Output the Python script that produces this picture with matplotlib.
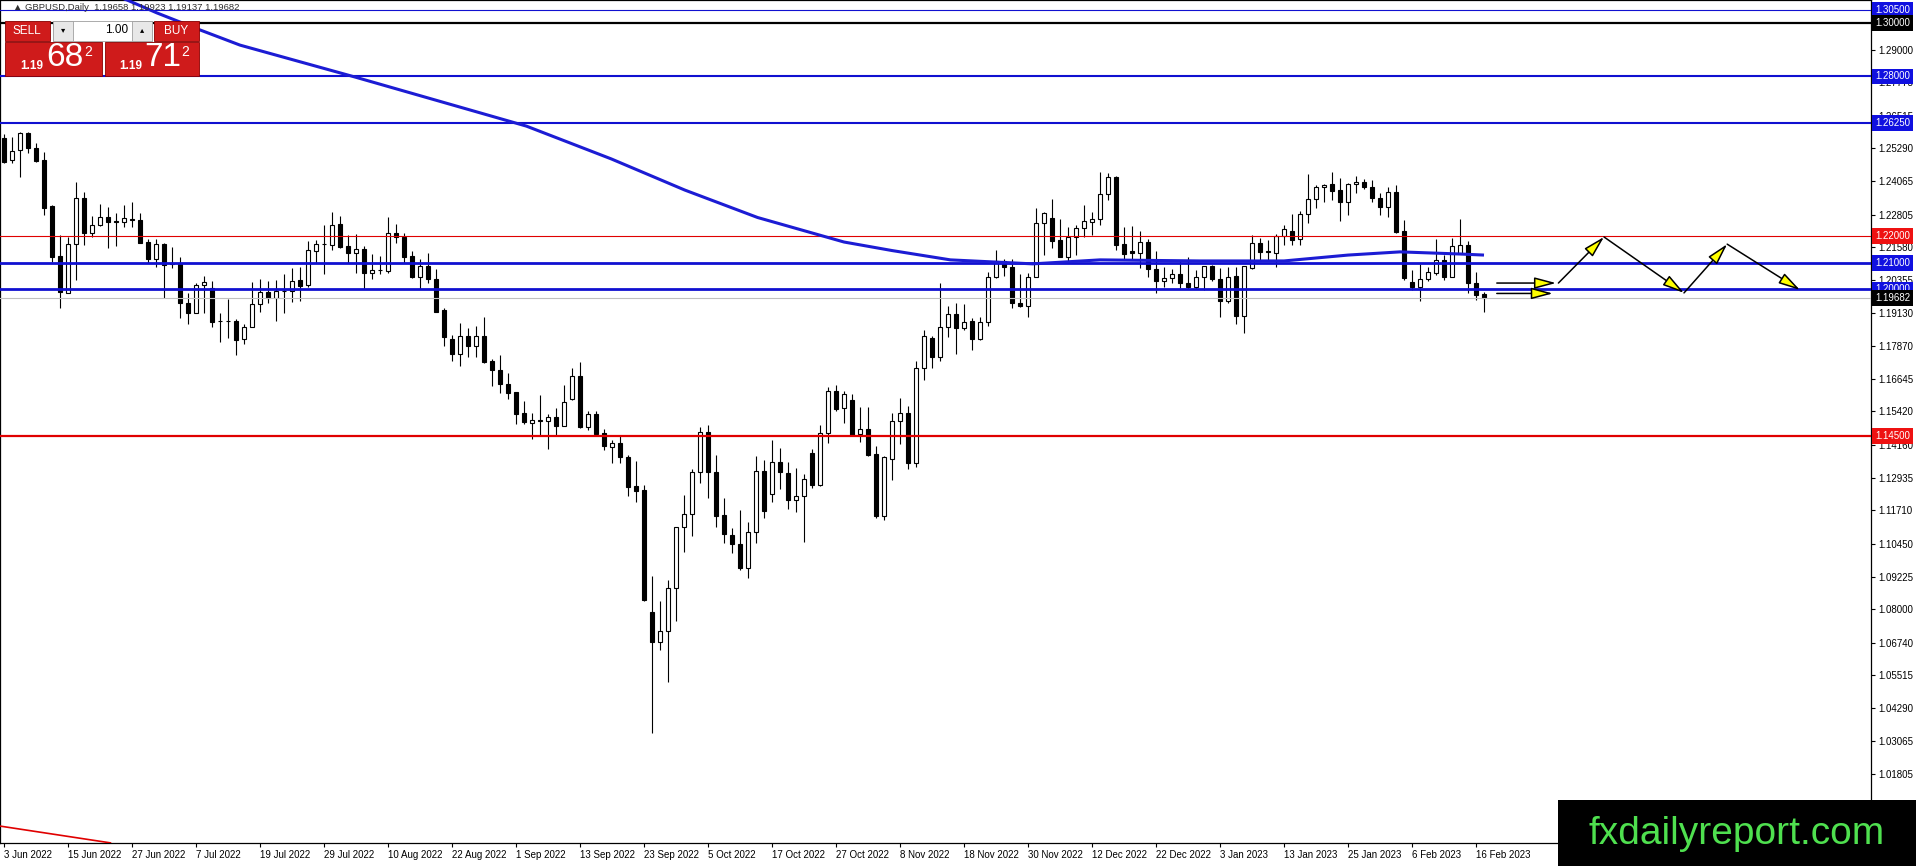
import numpy as np
import matplotlib.pyplot as plt
from matplotlib.patches import Rectangle

plt.rcParams['font.family'] = ['Liberation Sans', 'DejaVu Sans']

W, H = 1916, 866

# --- data ---
dates = ['3 Jun 2022', '15 Jun 2022', '27 Jun 2022', '7 Jul 2022', '19 Jul 2022', '29 Jul 2022',
         '10 Aug 2022', '22 Aug 2022', '1 Sep 2022', '13 Sep 2022', '23 Sep 2022', '5 Oct 2022',
         '17 Oct 2022', '27 Oct 2022', '8 Nov 2022', '18 Nov 2022', '30 Nov 2022', '12 Dec 2022',
         '22 Dec 2022', '3 Jan 2023', '13 Jan 2023', '25 Jan 2023', '6 Feb 2023', '16 Feb 2023']

opens = [1.2567, 1.2486, 1.2523, 1.2586, 1.2530, 1.2486, 1.2313, 1.2126, 1.1988, 1.2169,
         1.2342, 1.2213, 1.2242, 1.2271, 1.2257, 1.2253, 1.2265, 1.2261, 1.2178, 1.2113,
         1.2171, 1.2098, 1.2096, 1.1950, 1.1913, 1.2016, 1.2004, 1.1881, 1.1880, 1.1881,
         1.1813, 1.1860, 1.1945, 1.1989, 1.1967, 1.1993, 1.1994, 1.2036, 1.2015, 1.2146,
         1.2171, 1.2165, 1.2246, 1.2163, 1.2138, 1.2151, 1.2061, 1.2072, 1.2071, 1.2211,
         1.2196, 1.2126, 1.2045, 1.2088, 1.2040, 1.1923, 1.1813, 1.1757, 1.1826, 1.1786,
         1.1826, 1.1732, 1.1698, 1.1646, 1.1616, 1.1538, 1.1498, 1.1508, 1.1508, 1.1523,
         1.1489, 1.1588, 1.1676, 1.1482, 1.1532, 1.1461, 1.1408, 1.1423, 1.1370, 1.1263,
         1.1248, 1.0789, 1.0675, 1.0720, 1.0879, 1.1108, 1.1156, 1.1314, 1.1464, 1.1316,
         1.1154, 1.1077, 1.1045, 1.0956, 1.1088, 1.1319, 1.1231, 1.1352, 1.1310, 1.1208,
         1.1226, 1.1385, 1.1266, 1.1460, 1.1617, 1.1554, 1.1585, 1.1458, 1.1475, 1.1382,
         1.1150, 1.1364, 1.1507, 1.1538, 1.1348, 1.1705, 1.1817, 1.1748, 1.1858, 1.1907,
         1.1854, 1.1883, 1.1813, 1.1877, 1.2046, 1.2107, 1.2083, 1.1951, 1.1939, 1.2048,
         1.2248, 1.2267, 1.2186, 1.2123, 1.2198, 1.2230, 1.2255, 1.2263, 1.2357, 1.2423,
         1.2171, 1.2146, 1.2136, 1.2177, 1.2076, 1.2033, 1.2042, 1.2057, 1.2023, 1.2011,
         1.2046, 1.2088, 1.2040, 1.1958, 1.2051, 1.1902, 1.2080, 1.2176, 1.2143, 1.2138,
         1.2201, 1.2221, 1.2188, 1.2283, 1.2338, 1.2383, 1.2396, 1.2373, 1.2330, 1.2395,
         1.2402, 1.2386, 1.2342, 1.2308, 1.2365, 1.2220, 1.2027, 1.2011, 1.2038, 1.2061,
         1.2111, 1.2048, 1.2136, 1.2167, 1.2023, 1.1984]

highs = [1.2583, 1.2573, 1.2592, 1.2592, 1.2551, 1.2515, 1.2317, 1.2205, 1.2198, 1.2403,
         1.2367, 1.2276, 1.2320, 1.2308, 1.2288, 1.2317, 1.2330, 1.2286, 1.2189, 1.2189,
         1.2173, 1.2161, 1.2123, 1.1986, 1.2023, 1.2052, 1.2032, 1.1913, 1.1964, 1.1888,
         1.1870, 1.2029, 1.2038, 1.2032, 1.2036, 1.2058, 1.2079, 1.2086, 1.2183, 1.2186,
         1.2242, 1.2290, 1.2276, 1.2205, 1.2208, 1.2163, 1.2133, 1.2126, 1.2273, 1.2246,
         1.2213, 1.2145, 1.2113, 1.2138, 1.2076, 1.1930, 1.1830, 1.1873, 1.1857, 1.1861,
         1.1898, 1.1738, 1.1754, 1.1688, 1.1616, 1.1582, 1.1536, 1.1604, 1.1533, 1.1554,
         1.1642, 1.1704, 1.1729, 1.1544, 1.1544, 1.1476, 1.1435, 1.1454, 1.1379, 1.1356,
         1.1267, 1.0925, 1.0829, 1.0910, 1.1108, 1.1229, 1.1326, 1.1483, 1.1492, 1.1379,
         1.1216, 1.1104, 1.1173, 1.1126, 1.1375, 1.1360, 1.1435, 1.1404, 1.1352, 1.1329,
         1.1306, 1.1402, 1.1492, 1.1633, 1.1642, 1.1617, 1.1608, 1.1558, 1.1558, 1.1414,
         1.1375, 1.1535, 1.1592, 1.1563, 1.1730, 1.1848, 1.1826, 1.2023, 1.1939, 1.1951,
         1.1945, 1.1892, 1.1898, 1.2067, 1.2148, 1.2113, 1.2113, 1.2057, 1.2061, 1.2305,
         1.2292, 1.2338, 1.2263, 1.2236, 1.2242, 1.2317, 1.2292, 1.2440, 1.2438, 1.2426,
         1.2236, 1.2238, 1.2220, 1.2188, 1.2146, 1.2083, 1.2076, 1.2105, 1.2121, 1.2073,
         1.2088, 1.2092, 1.2080, 1.2083, 1.2083, 1.2088, 1.2205, 1.2192, 1.2186, 1.2208,
         1.2242, 1.2283, 1.2295, 1.2433, 1.2392, 1.2396, 1.2442, 1.2417, 1.2401, 1.2426,
         1.2413, 1.2411, 1.2361, 1.2386, 1.2392, 1.2261, 1.2073, 1.2095, 1.2083, 1.2190,
         1.2130, 1.2192, 1.2263, 1.2180, 1.2067, 1.1992]

lows = [1.2476, 1.2473, 1.2423, 1.2511, 1.2480, 1.2280, 1.2104, 1.1929, 1.1986, 1.2036,
        1.2167, 1.2198, 1.2238, 1.2154, 1.2163, 1.2236, 1.2236, 1.2173, 1.2098, 1.2086,
        1.1969, 1.2079, 1.1892, 1.1870, 1.1911, 1.1913, 1.1860, 1.1804, 1.1817, 1.1753,
        1.1795, 1.1858, 1.1917, 1.1948, 1.1883, 1.1911, 1.1954, 1.1958, 1.2010, 1.2099,
        1.2058, 1.2148, 1.2155, 1.2101, 1.2061, 1.2001, 1.2040, 1.2058, 1.2063, 1.2176,
        1.2101, 1.2042, 1.2001, 1.2023, 1.1917, 1.1786, 1.1733, 1.1711, 1.1748, 1.1748,
        1.1723, 1.1638, 1.1613, 1.1588, 1.1494, 1.1494, 1.1438, 1.1454, 1.1401, 1.1451,
        1.1488, 1.1586, 1.1479, 1.1473, 1.1454, 1.1398, 1.1348, 1.1350, 1.1226, 1.1204,
        1.0829, 1.0337, 1.0645, 1.0528, 1.0754, 1.1016, 1.1076, 1.1273, 1.1219, 1.1108,
        1.1048, 1.1012, 1.0947, 1.0916, 1.1050, 1.1144, 1.1204, 1.1250, 1.1176, 1.1163,
        1.1054, 1.1254, 1.1263, 1.1423, 1.1542, 1.1498, 1.1450, 1.1429, 1.1375, 1.1144,
        1.1135, 1.1283, 1.1420, 1.1325, 1.1335, 1.1661, 1.1705, 1.1733, 1.1823, 1.1757,
        1.1848, 1.1771, 1.1811, 1.1864, 1.2042, 1.2051, 1.1932, 1.1935, 1.1896, 1.2046,
        1.2130, 1.2155, 1.2121, 1.2105, 1.2130, 1.2196, 1.2205, 1.2242, 1.2336, 1.2148,
        1.2111, 1.2111, 1.2080, 1.2048, 1.1986, 1.2011, 1.2026, 1.2005, 1.2001, 1.2001,
        1.1998, 1.2030, 1.1896, 1.1948, 1.1869, 1.1836, 1.2076, 1.2108, 1.2105, 1.2083,
        1.2167, 1.2167, 1.2167, 1.2248, 1.2307, 1.2330, 1.2336, 1.2258, 1.2280, 1.2361,
        1.2376, 1.2330, 1.2280, 1.2271, 1.2213, 1.2036, 1.1998, 1.1955, 1.2030, 1.2055,
        1.2036, 1.2046, 1.2136, 1.1986, 1.1961, 1.1914]

closes = [1.2480, 1.2521, 1.2586, 1.2530, 1.2483, 1.2305, 1.2123, 1.1991, 1.2169, 1.2342,
          1.2211, 1.2242, 1.2271, 1.2254, 1.2253, 1.2267, 1.2261, 1.2176, 1.2113, 1.2171,
          1.2092, 1.2094, 1.1948, 1.1913, 1.2017, 1.2027, 1.1879, 1.1880, 1.1881, 1.1811,
          1.1858, 1.1945, 1.1989, 1.1967, 1.1994, 1.1994, 1.2033, 1.2014, 1.2148, 1.2171,
          1.2172, 1.2242, 1.2161, 1.2138, 1.2151, 1.2063, 1.2073, 1.2073, 1.2211, 1.2198,
          1.2123, 1.2045, 1.2088, 1.2038, 1.1917, 1.1821, 1.1757, 1.1826, 1.1786, 1.1826,
          1.1727, 1.1696, 1.1644, 1.1613, 1.1533, 1.1501, 1.1511, 1.1509, 1.1523, 1.1488,
          1.1579, 1.1676, 1.1482, 1.1532, 1.1458, 1.1411, 1.1423, 1.1370, 1.1260, 1.1245,
          1.0833, 1.0675, 1.0720, 1.0879, 1.1108, 1.1156, 1.1314, 1.1464, 1.1316, 1.1151,
          1.1081, 1.1044, 1.0956, 1.1088, 1.1319, 1.1170, 1.1352, 1.1314, 1.1208, 1.1226,
          1.1288, 1.1266, 1.1460, 1.1620, 1.1552, 1.1607, 1.1454, 1.1475, 1.1379, 1.1148,
          1.1370, 1.1507, 1.1538, 1.1348, 1.1705, 1.1826, 1.1748, 1.1858, 1.1907, 1.1854,
          1.1879, 1.1813, 1.1877, 1.2046, 1.2107, 1.2083, 1.1951, 1.1939, 1.2048, 1.2248,
          1.2288, 1.2183, 1.2123, 1.2198, 1.2230, 1.2258, 1.2263, 1.2357, 1.2421, 1.2167,
          1.2132, 1.2136, 1.2177, 1.2076, 1.2033, 1.2042, 1.2057, 1.2023, 1.2011, 1.2046,
          1.2088, 1.2038, 1.1958, 1.2046, 1.1902, 1.2088, 1.2176, 1.2142, 1.2142, 1.2201,
          1.2226, 1.2186, 1.2283, 1.2338, 1.2383, 1.2392, 1.2371, 1.2330, 1.2396, 1.2402,
          1.2386, 1.2342, 1.2311, 1.2365, 1.2217, 1.2042, 1.2011, 1.2038, 1.2065, 1.2111,
          1.2048, 1.2163, 1.2167, 1.2023, 1.1980, 1.1968]

# moving average, read at a few bars
ma_idx = [10, 15.4, 19.1, 24.5, 29.5, 43.9, 65.3, 75.9, 85.1, 94.2, 105, 111,
          118.3, 128.6, 137, 149.5, 160, 168, 174.5, 182, 185]
ma_val = [1.3140, 1.3086, 1.3038, 1.2974, 1.2917, 1.2797, 1.2613, 1.2490, 1.2373, 1.2270,
          1.2178, 1.2146, 1.2111, 1.2096, 1.2111, 1.2107, 1.2107, 1.2129, 1.2141, 1.2133, 1.2129]

# horizontal levels: price, colour, width
levels = [1.3050, 1.3000, 1.2800, 1.2625, 1.2200, 1.2100, 1.2000, 1.19682, 1.1450]
level_colors = ['#1010d0', 'black', '#1010d0', '#1010d0', '#e00000', '#1010d0', '#1010d0',
                '#c0c0c0', '#e00000']
level_widths = [0.8, 1.6, 1.5, 1.5, 0.8, 2.0, 2.0, 0.8, 1.6]
label_colors = ['#1010e0', 'black', '#1010e0', '#1010e0', '#ee1111', '#1010e0', '#1010e0',
                'black', '#ee1111']

axis_ticks = [1.29000, 1.27775, 1.26515, 1.25290, 1.24065, 1.22805, 1.21580, 1.20355,
              1.19130, 1.17870, 1.16645, 1.15420, 1.14160, 1.12935, 1.11710, 1.10450,
              1.09225, 1.08000, 1.06740, 1.05515, 1.04290, 1.03065, 1.01805]

# projection arrows (bar index, price)
arr_x0 = [186.6, 186.6, 194.3, 200.0, 210.0, 215.4]
arr_y0 = [1.2024, 1.1985, 1.2024, 1.2197, 1.1987, 1.2170]
arr_x1 = [194.0, 193.6, 200.0, 210.0, 215.4, 224.5]
arr_y1 = [1.2024, 1.1985, 1.2197, 1.1987, 1.2170, 1.1998]

# red trend line at the bottom left
trend_x = [-0.5, 13.3]
trend_y = [0.9986, 0.9923]

# --- figure ---
fig = plt.figure(figsize=(W / 100, H / 100), dpi=100)
fig.patch.set_facecolor('white')
ax = fig.add_axes([0, 23 / H, 1871 / W, 843 / H])
ax.set_xlim(-0.5, 233.375)
ax.set_ylim(0.99225, 1.30863)

x = np.arange(len(opens))
o = np.array(opens); c = np.array(closes)
bull = c >= o
ax.vlines(x, lows, highs, color='black', lw=0.8, zorder=2)
bottom = np.minimum(o, c)
height = np.maximum(np.abs(c - o), 0.00004)
ax.bar(x, height, bottom=bottom, width=0.55,
       color=np.where(bull, 'white', 'black'), edgecolor='black', linewidth=0.8, zorder=3)

for lv, col, lw in zip(levels, level_colors, level_widths):
    ax.axhline(lv, color=col, lw=lw, zorder=4)

ax.plot(ma_idx, ma_val, color='#1c1cd4', lw=2.2, zorder=5, solid_capstyle='butt')
ax.plot(trend_x, trend_y, color='#e00000', lw=1.2, zorder=4, clip_on=True)

for xa, ya, xb, yb in zip(arr_x0, arr_y0, arr_x1, arr_y1):
    ax.annotate('', xy=(xb, yb), xytext=(xa, ya),
                arrowprops=dict(arrowstyle='-|>,head_length=0.6,head_width=0.16',
                                mutation_scale=22, fc='#ffff00', ec='black', lw=1.1,
                                shrinkA=0, shrinkB=0), zorder=6)

# axes styling
for s in ax.spines.values():
    s.set_color('black')
    s.set_linewidth(0.9)
ax.yaxis.tick_right()
ax.set_yticks(axis_ticks)
ax.set_yticklabels([f'{v:.5f}' for v in axis_ticks])
ax.tick_params(axis='y', length=3, width=0.8, pad=2, labelsize=7, colors='black')
ax.set_xticks(np.arange(0, 8 * len(dates), 8))
ax.set_xticklabels(dates, ha='left')
ax.tick_params(axis='x', length=3, width=0.8, pad=2, labelsize=7, colors='black')

for lv, col in zip(levels, label_colors):
    ax.annotate(f'{lv:.5f}', xy=(1, lv), xycoords=('axes fraction', 'data'),
                xytext=(4, 0), textcoords='offset pixels', ha='left', va='center',
                fontsize=7, color='white', annotation_clip=False, zorder=10,
                bbox=dict(boxstyle='square,pad=0.28', fc=col, ec='none'))


# --- overlay panels, in pixel coordinates ---
def rect(x0, y0, x1, y1, **kw):
    fig.add_artist(Rectangle((x0 / W, 1 - y1 / H), (x1 - x0) / W, (y1 - y0) / H,
                             transform=fig.transFigure, **kw))


def ftext(xp, yp, s, **kw):
    fig.text(xp / W, 1 - yp / H, s, **kw)


ftext(13, 8, '\u25b2 GBPUSD,Daily  1.19658 1.19923 1.19137 1.19682', fontsize=6.8,
      color='#303030', va='center', ha='left')

red = '#cf1b1b'
rect(5, 21, 50, 41, fc=red, ec='#8a0000', lw=0.6)
rect(154, 21, 199, 41, fc=red, ec='#8a0000', lw=0.6)
rect(53, 21, 152, 41, fc='white', ec='#a0a0a0', lw=0.6)
rect(53, 21, 73, 41, fc='#e8e8e8', ec='#a0a0a0', lw=0.6)
rect(132, 21, 152, 41, fc='#e8e8e8', ec='#a0a0a0', lw=0.6)
rect(5, 42, 102, 76, fc=red, ec='#8a0000', lw=0.6)
rect(105, 42, 199, 76, fc=red, ec='#8a0000', lw=0.6)
ftext(27, 31, 'SELL', fontsize=8.5, color='white', ha='center', va='center')
ftext(176, 31, 'BUY', fontsize=8.5, color='white', ha='center', va='center')
ftext(63, 31, '\u25be', fontsize=6, color='black', ha='center', va='center')
ftext(142, 31, '\u25b4', fontsize=6, color='black', ha='center', va='center')
ftext(128, 30, '1.00', fontsize=8.5, color='black', ha='right', va='center')
ftext(32, 66, '1.19', fontsize=8.5, color='white', ha='center', va='center', fontweight='bold')
ftext(65, 57, '68', fontsize=24, color='white', ha='center', va='center')
ftext(88, 52, '2', fontsize=10, color='white', ha='center', va='center')
ftext(131, 66, '1.19', fontsize=8.5, color='white', ha='center', va='center', fontweight='bold')
ftext(163, 57, '71', fontsize=24, color='white', ha='center', va='center')
ftext(185, 52, '2', fontsize=10, color='white', ha='center', va='center')

# watermark
rect(1558, 800, 1916, 866, fc='black', ec='none', zorder=20)
ftext(1737, 834, 'fxdailyreport.com', fontsize=28, color='#4fe04f', ha='center',
      va='center', zorder=21)

fig.savefig('out.png', dpi=100)
